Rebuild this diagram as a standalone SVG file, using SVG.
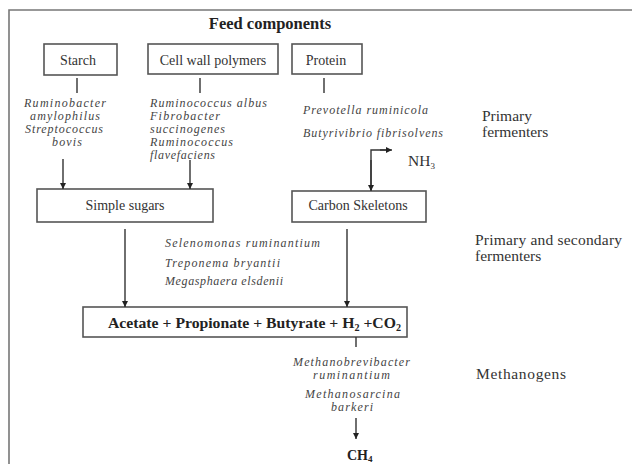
<svg xmlns="http://www.w3.org/2000/svg" width="632" height="464" viewBox="0 0 632 464">
<defs>
<marker id="ah" viewBox="0 0 10 10" refX="10" refY="5" markerWidth="6" markerHeight="6" markerUnits="userSpaceOnUse" orient="auto">
<path d="M0,0 L10,5 L0,10 Z" fill="#222"/>
</marker>
<style>
.box{fill:#fff;stroke:#555;stroke-width:1.6}
.bt{font-family:"Liberation Serif","Times New Roman",serif;font-size:14px;fill:#333;text-anchor:middle}
.sp{font-family:"Liberation Serif","Times New Roman",serif;font-size:12px;font-style:italic;fill:#444}
.lb{font-family:"Liberation Serif","Times New Roman",serif;font-size:15.5px;fill:#333}
.bd{font-family:"Liberation Serif","Times New Roman",serif;font-weight:bold;fill:#222}
.ln{stroke:#333;stroke-width:1.4;fill:none}
.ar{stroke:#333;stroke-width:1.4;fill:none;marker-end:url(#ah)}
</style>
</defs>
<rect width="632" height="464" fill="#fff"/>
<path d="M9,464 V10 H632" fill="none" stroke="#777" stroke-width="1.6"/>
<text class="bd" x="270" y="29" font-size="16.5" text-anchor="middle">Feed components</text>

<g id="starch"><rect class="box" x="44" y="44" width="73" height="31"/><text class="bt" x="78" y="65">Starch</text></g>
<g id="cellwall"><rect class="box" x="148" y="44" width="130" height="30"/><text class="bt" x="213" y="65">Cell wall polymers</text></g>
<g id="protein"><rect class="box" x="292" y="44" width="70" height="30"/><text class="bt" x="326" y="65">Protein</text></g>
<g id="simplesugars"><rect class="box" x="37" y="189" width="176" height="33"/><text class="bt" x="125" y="210">Simple sugars</text></g>
<g id="carbonskeletons"><rect class="box" x="292" y="191" width="134" height="31"/><text class="bt" x="358" y="210">Carbon Skeletons</text></g>
<g id="products"><rect class="box" x="83" y="307" width="324" height="30"/><text class="bd" x="108" y="328" font-size="15.5" textLength="293" lengthAdjust="spacingAndGlyphs">Acetate + Propionate + Butyrate + H<tspan font-size="10" dy="3">2</tspan><tspan dy="-3"> +CO</tspan><tspan font-size="10" dy="3">2</tspan></text></g>
<g id="nh3"><text class="lb" x="408" y="166" font-size="14">NH<tspan font-size="9" dy="3">3</tspan></text></g>
<g id="ch4"><text class="bd" x="347" y="460" font-size="14">CH<tspan font-size="9" dy="2">4</tspan></text></g>

<g id="starch-bacteria">
<text class="sp" x="24" y="107" textLength="82">Ruminobacter</text>
<text class="sp" x="30" y="119.5" textLength="70">amylophilus</text>
<text class="sp" x="25" y="132.5" textLength="78">Streptococcus</text>
<text class="sp" x="52" y="146" textLength="30">bovis</text>
</g>
<g id="cellwall-bacteria">
<text class="sp" x="150" y="107" textLength="117">Ruminococcus albus</text>
<text class="sp" x="150" y="119.5" textLength="70">Fibrobacter</text>
<text class="sp" x="150" y="132.5" textLength="75">succinogenes</text>
<text class="sp" x="150" y="146" textLength="83">Ruminococcus</text>
<text class="sp" x="150" y="158.5" textLength="65">flavefaciens</text>
</g>
<g id="protein-bacteria">
<text class="sp" x="303" y="114" textLength="125">Prevotella ruminicola</text>
<text class="sp" x="303" y="137" textLength="140">Butyrivibrio fibrisolvens</text>
</g>
<g id="secondary-bacteria">
<text class="sp" x="165" y="247" textLength="155">Selenomonas ruminantium</text>
<text class="sp" x="165" y="267" textLength="115">Treponema bryantii</text>
<text class="sp" x="165" y="285" textLength="118">Megasphaera elsdenii</text>
</g>
<g id="methanogen-bacteria">
<text class="sp" x="293" y="366" textLength="117">Methanobrevibacter</text>
<text class="sp" x="313" y="379" textLength="77">ruminantium</text>
<text class="sp" x="305" y="398" textLength="95">Methanosarcina</text>
<text class="sp" x="331" y="411" textLength="42">barkeri</text>
</g>
<g id="labels">
<text class="lb" x="482" y="121">Primary</text>
<text class="lb" x="482" y="137">fermenters</text>
<text class="lb" x="475" y="245" textLength="147">Primary and secondary</text>
<text class="lb" x="475" y="261">fermenters</text>
<text class="lb" x="476" y="379" textLength="90">Methanogens</text>
</g>

<g id="connectors">
<line class="ln" x1="77" y1="78" x2="77" y2="93"/>
<line class="ln" x1="200" y1="78" x2="200" y2="93"/>
<line class="ln" x1="324" y1="78" x2="324" y2="93"/>
<line class="ar" x1="63" y1="159" x2="63" y2="189"/>
<line class="ar" x1="190" y1="160" x2="190" y2="189"/>
<path class="ln" d="M371,190 V150 H386"/>
<line class="ar" x1="380" y1="150" x2="392" y2="150"/>
<line class="ar" x1="371" y1="160" x2="371" y2="191"/>
<line class="ar" x1="125" y1="229" x2="125" y2="307"/>
<line class="ar" x1="347" y1="229" x2="347" y2="307"/>
<line class="ln" x1="356" y1="337" x2="356" y2="347"/>
<line class="ar" x1="356" y1="418" x2="356" y2="439"/>
</g>
</svg>
